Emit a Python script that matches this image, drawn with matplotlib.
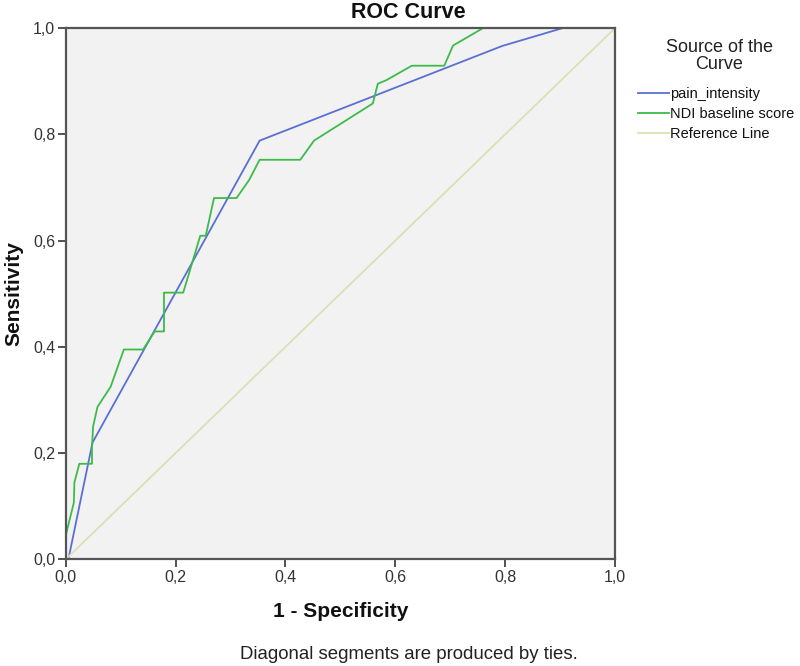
import matplotlib
matplotlib.use("Agg")
import matplotlib.pyplot as plt
from matplotlib.ticker import FuncFormatter

plt.rcParams['font.family'] = ['Liberation Sans', 'DejaVu Sans']

# pain_intensity ROC curve
pain_fpr = [0.0, 0.005, 0.049, 0.353, 0.794, 0.905, 1.0]
pain_tpr = [0.0, 0.0, 0.22, 0.788, 0.966, 1.0, 1.0]

# NDI baseline score ROC curve
ndi_fpr = [0.0, 0.0, 0.015, 0.016, 0.025, 0.048, 0.048, 0.05, 0.058, 0.082, 0.106,
           0.141, 0.162, 0.179, 0.179, 0.214, 0.245, 0.255, 0.27, 0.311, 0.334,
           0.353, 0.427, 0.452, 0.559, 0.568, 0.584, 0.63, 0.689, 0.705, 0.76, 1.0]
ndi_tpr = [0.0, 0.044, 0.107, 0.145, 0.18, 0.18, 0.21, 0.25, 0.287, 0.325, 0.395,
           0.395, 0.429, 0.429, 0.502, 0.502, 0.609, 0.609, 0.68, 0.68, 0.714,
           0.752, 0.752, 0.788, 0.858, 0.895, 0.902, 0.929, 0.929, 0.967, 1.0, 1.0]

ref_x = [0.0, 1.0]
ref_y = [0.0, 1.0]

ticks = [0.0, 0.2, 0.4, 0.6, 0.8, 1.0]

fig = plt.figure(figsize=(8.0, 6.66), dpi=100)
ax = fig.add_axes([0.082, 0.16, 0.687, 0.798])
ax.set_facecolor('#F2F2F2')

ax.plot(pain_fpr, pain_tpr, color='#5A6FD3', lw=1.3, label='pain_intensity')
ax.plot(ndi_fpr, ndi_tpr, color='#3DBB4A', lw=1.3, label='NDI baseline score')
ax.plot(ref_x, ref_y, color='#DCDFB4', lw=1.3, label='Reference Line')

ax.set_xlim(0, 1)
ax.set_ylim(0, 1)
ax.set_xticks(ticks)
ax.set_yticks(ticks)
fmt = FuncFormatter(lambda v, p: f"{v:.1f}".replace('.', ','))
ax.xaxis.set_major_formatter(fmt)
ax.yaxis.set_major_formatter(fmt)
ax.tick_params(axis='both', length=6, width=1.3, color='#444444', labelsize=11.5,
               labelcolor='#333333', direction='out', pad=1.5)
for s in ax.spines.values():
    s.set_color('#555555')
    s.set_linewidth(1.6)

fig.text(0.511, 1 - 18 / 666, 'ROC Curve', ha='center', va='baseline',
         fontsize=15.5, fontweight='bold', color='#111111')
ax.set_xlabel('1 - Specificity', fontsize=15, fontweight='bold', labelpad=12,
              color='#111111')
ax.set_ylabel('Sensitivity', fontsize=15, fontweight='bold', labelpad=7,
              color='#111111')

fig.text(719 / 800, 1 - 56 / 666, 'Source of the\nCurve', ha='center', va='center',
         fontsize=13, linespacing=0.95, color='#222222')
leg = fig.legend(handles=ax.get_lines(), loc='upper left',
                 bbox_to_anchor=(638 / 800, 1 - 87 / 666),
                 frameon=False, fontsize=10.5, handlelength=2.1, handletextpad=0.1,
                 labelspacing=0.4, borderaxespad=0, borderpad=0)
for t in leg.get_texts():
    t.set_color('#111111')

fig.text(0.511, 1 - 659 / 666, 'Diagonal segments are produced by ties.', ha='center',
         va='baseline', fontsize=13.4, color='#222222')

fig.savefig('out.png', dpi=100, facecolor='white')
